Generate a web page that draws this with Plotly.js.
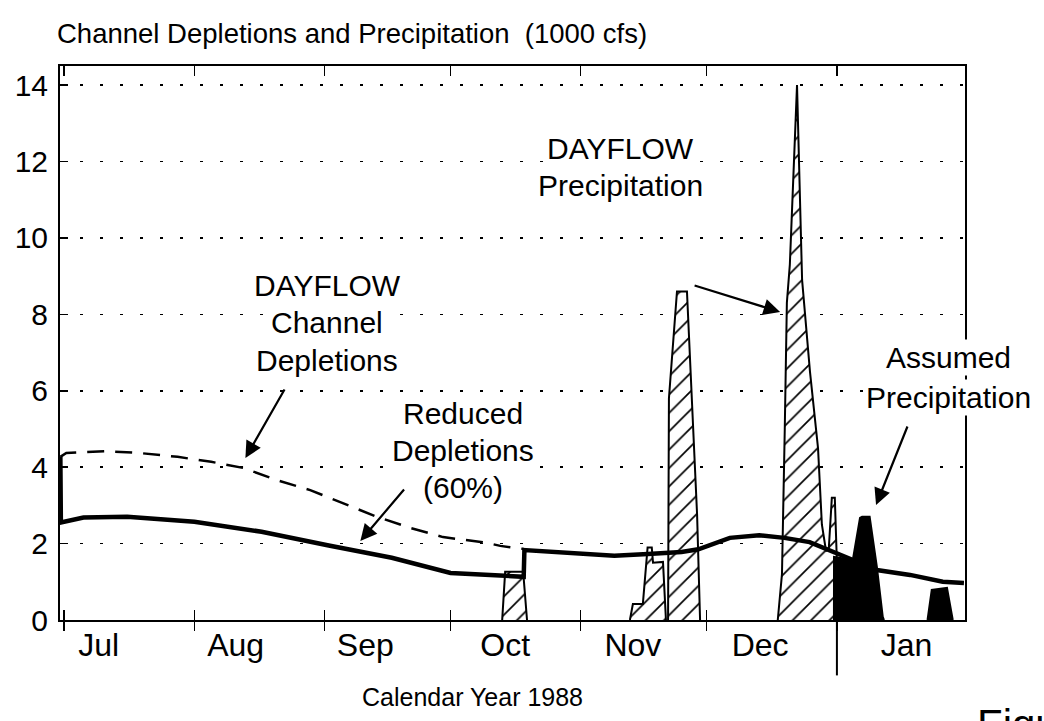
<!DOCTYPE html>
<html>
<head>
<meta charset="utf-8">
<script src="https://cdn.plot.ly/plotly-3.0.1.min.js"></script>
<style>html,body{margin:0;padding:0;background:#fff;}#chart{width:1044px;height:721px;}</style>
</head>
<body>
<div id="chart"></div>
<script>
// ---------- DATA ----------
const xRange = ['1988-06-30 00:00', '1989-01-31 12:00'];
const yTicks = [0, 2, 4, 6, 8, 10, 12, 14];
const monthStarts = ['1988-07-01','1988-08-01','1988-09-01','1988-10-01','1988-11-01','1988-12-01','1989-01-01'];
const monthLabels = ['Jul','Aug','Sep','Oct','Nov','Dec','Jan'];
const monthLabelDates = ['1988-07-09 05:00','1988-08-10 20:00','1988-09-10 17:00','1988-10-14 00:00',
  '1988-11-13 10:00','1988-12-13 17:00','1989-01-17 14:00'];
const yearBoundary = '1989-01-01';

// DAYFLOW channel depletions (dashed)
const dayflowDates = ['1988-06-30 02:00','1988-07-01 12:00','1988-07-11','1988-07-19','1988-07-28',
  '1988-08-05','1988-08-12 16:00','1988-08-20 16:00','1988-08-28 14:00','1988-09-05 12:00',
  '1988-09-13 12:00','1988-09-21 10:00','1988-09-29 05:00','1988-10-09 16:00','1988-10-12 20:00','1988-10-18 10:00'];
const dayflowDepletion = [4.27,4.37,4.42,4.37,4.27,4.14,3.98,3.66,3.40,3.06,2.70,2.41,2.17,2.02,1.94,1.86];

// Reduced depletions (60%) (solid)
const reducedDates = ['1988-06-30 02:00','1988-06-30 05:00','1988-07-05 14:00','1988-07-16','1988-08-01',
  '1988-08-17','1988-09-02','1988-09-17','1988-10-01','1988-10-13','1988-10-18 10:00','1988-10-18 14:00',
  '1988-10-28','1988-11-09','1988-11-17','1988-11-25','1988-11-29','1988-12-06 12:00','1988-12-13 12:00',
  '1988-12-19 12:00','1988-12-25 12:00','1988-12-30 08:00','1989-01-04 20:00','1989-01-10 12:00',
  '1989-01-18 10:00','1989-01-26 05:00','1989-01-31 06:00'];
const reducedDepletion = [4.27,2.55,2.68,2.70,2.57,2.31,1.95,1.63,1.23,1.15,1.13,1.83,
  1.76,1.68,1.73,1.78,1.85,2.15,2.22,2.15,2.04,1.83,1.57,1.31,1.18,1.00,0.97];

// DAYFLOW precipitation (hatched), segments separated by null
const precipDates = [
  '1988-10-13 07:00','1988-10-14 00:00','1988-10-18 07:00','1988-10-19 05:00', null,
  '1988-11-12 17:00','1988-11-13 10:00','1988-11-15 19:00','1988-11-16 17:00','1988-11-16 22:00','1988-11-17 22:00','1988-11-18 05:00','1988-11-20 14:00','1988-11-21 07:00', null,
  '1988-11-21 19:00','1988-11-22 00:00','1988-11-23 22:00','1988-11-26 07:00','1988-11-28 17:00','1988-11-29 10:00', null,
  '1988-12-17 22:00','1988-12-18 22:00','1988-12-19 14:00','1988-12-20 02:00','1988-12-20 19:00','1988-12-22 12:00','1988-12-23 17:00','1988-12-25 14:00','1988-12-27 12:00','1988-12-28 10:00','1988-12-29 10:00','1988-12-30 02:00','1988-12-30 19:00','1988-12-31 12:00','1989-01-01 00:00','1989-01-01 00:30'
];
const dayflowPrecip = [
  0,1.26,1.26,0, null,
  0,0.42,0.42,1.50,1.90,1.90,1.50,1.52,0, null,
  0,5.80,8.60,8.60,2.75,0, null,
  0,1.20,5.00,8.30,9.30,14.0,8.90,6.50,4.50,2.50,1.80,1.90,3.20,3.20,1.50,0
];

// Assumed precipitation (solid black)
const assumedDates = [
  '1988-12-31 07:00','1988-12-31 07:30','1989-01-04 19:00','1989-01-06 12:00','1989-01-07 00:00','1989-01-08 19:00','1989-01-10 12:00','1989-01-11 22:00','1989-01-12 05:00', null,
  '1989-01-22 14:00','1989-01-23 14:00','1989-01-27 05:00','1989-01-28 14:00'
];
const assumedPrecip = [0,1.65,1.57,2.67,2.70,2.70,1.40,0.08,0, null, 0,0.79,0.84,0];

// ---------- TEXT ----------
const titleText = 'Channel Depletions and Precipitation&nbsp;&nbsp;(1000 cfs)';
const xTitleText = 'Calendar Year 1988';

const FONT = 'Liberation Sans, Arial, Helvetica, sans-serif';

// layout helpers: pixel position in plot -> paper coords
const L = 59.5, R = 965, T = 66, B = 620;
const PX = v => (v - L) / (R - L);
const PY = v => (B - v) / (B - T);

const traces = [
  {x: precipDates, y: dayflowPrecip, type: 'scatter', mode: 'lines', fill: 'toself',
   fillcolor: 'white',
   fillpattern: {shape: '/', size: 13, solidity: 0.13, fgcolor: 'black', bgcolor: 'white'},
   line: {color: 'black', width: 2}, hoverinfo: 'skip', showlegend: false},
  {x: assumedDates, y: assumedPrecip, type: 'scatter', mode: 'lines', fill: 'toself',
   fillcolor: 'black', line: {color: 'black', width: 2}, hoverinfo: 'skip', showlegend: false},
  {x: dayflowDates, y: dayflowDepletion, type: 'scatter', mode: 'lines',
   line: {color: 'black', width: 2.5, dash: '17px,11px'}, hoverinfo: 'skip', showlegend: false},
  {x: reducedDates, y: reducedDepletion, type: 'scatter', mode: 'lines',
   line: {color: 'black', width: 4.5}, hoverinfo: 'skip', showlegend: false},
  {x: [xRange[0]], y: [null], xaxis: 'x2', type: 'scatter', mode: 'lines', hoverinfo: 'skip', showlegend: false},
  {x: [xRange[0]], y: [null], xaxis: 'x3', type: 'scatter', mode: 'lines', hoverinfo: 'skip', showlegend: false}
];

function textBlock(lines, cx, firstY, gap, size) {
  return lines.map((t, i) => ({
    text: t, xref: 'paper', yref: 'paper', x: PX(cx), y: PY(firstY + i * gap),
    xanchor: 'center', yanchor: 'middle', showarrow: false, bgcolor: 'white',
    font: {family: FONT, size: size, color: 'black'}
  }));
}
function arrow(hx, hy, tx, ty) {
  return {text: '', xref: 'paper', yref: 'paper', x: PX(hx), y: PY(hy),
    ax: tx - hx, ay: ty - hy, showarrow: true, arrowhead: 2, arrowsize: 1.5,
    arrowwidth: 2.2, arrowcolor: 'black', standoff: 0};
}

const annotations = [].concat(
  textBlock(['DAYFLOW', 'Precipitation'], 620, 148, 37, 30),
  textBlock(['DAYFLOW', 'Channel', 'Depletions'], 327, 285, 37.5, 30),
  textBlock(['Reduced', 'Depletions', '(60%)'], 463, 413, 37.5, 30),
  textBlock(['Assumed', 'Precipitation'], 948, 358, 39, 30),
  [
    arrow(780, 312, 693, 285),
    arrow(245, 458, 285, 388),
    arrow(360, 541, 405, 488),
    arrow(876, 505, 908, 425),
    {text: xTitleText, xref: 'paper', yref: 'paper', x: PX(472), y: PY(697), xanchor: 'center', yanchor: 'middle',
     showarrow: false, font: {family: FONT, size: 25, color: 'black'}},
    {text: 'Figure', xref: 'paper', yref: 'paper', x: PX(975), y: PY(699), xanchor: 'left', yanchor: 'top',
     showarrow: false, font: {family: FONT, size: 42, color: 'black'}}
  ]
);

const axisCommon = {type: 'date', range: xRange, fixedrange: true, automargin: false, zeroline: false, showgrid: false};

const layout = {
  width: 1044, height: 721,
  margin: {l: L, r: 1044 - R, t: T, b: 721 - B, pad: 0},
  paper_bgcolor: 'white', plot_bgcolor: 'white',
  font: {family: FONT, color: 'black'},
  title: {text: titleText, font: {family: FONT, size: 27.5, color: 'black'},
          x: 57 / 1044, xanchor: 'left', xref: 'container', y: 1 - 33 / 721, yanchor: 'middle', yref: 'container'},
  showlegend: false,
  xaxis: Object.assign({}, axisCommon, {
    tickmode: 'array', tickvals: monthStarts, showticklabels: false,
    ticks: 'inside', ticklen: 10, tickwidth: 1.5, tickcolor: 'black',
    mirror: 'ticks', showline: true, linecolor: 'black', linewidth: 2
  }),
  xaxis2: Object.assign({}, axisCommon, {
    overlaying: 'x', side: 'bottom', tickmode: 'array', tickvals: monthStarts,
    ticks: 'outside', ticklen: 10, tickwidth: 1.5, tickcolor: 'black',
    showticklabels: false, showline: false
  }),
  xaxis3: Object.assign({}, axisCommon, {
    overlaying: 'x', side: 'bottom', tickmode: 'array', tickvals: monthLabelDates, ticktext: monthLabels,
    ticks: '', showline: false, ticklabelstandoff: 3,
    tickfont: {family: FONT, size: 32, color: 'black'}
  }),
  yaxis: {
    range: [0, 14.5], tickvals: yTicks, ticks: 'inside', ticklen: 8, tickwidth: 1.5, tickcolor: 'black',
    showline: true, linecolor: 'black', linewidth: 2, mirror: true,
    showgrid: true, gridcolor: 'black', gridwidth: 1.5, griddash: '3px,17px',
    zeroline: false, fixedrange: true, automargin: false, ticklabelstandoff: 4,
    tickfont: {family: FONT, size: 30, color: 'black'}
  },
  shapes: [
    {type: 'line', xref: 'x', yref: 'paper', x0: yearBoundary, x1: yearBoundary, y0: -0.1, y1: 0,
     line: {color: 'black', width: 2}}
  ],
  annotations: annotations
};

Plotly.newPlot('chart', traces, layout, {staticPlot: true, displayModeBar: false});
</script>
</body>
</html>
